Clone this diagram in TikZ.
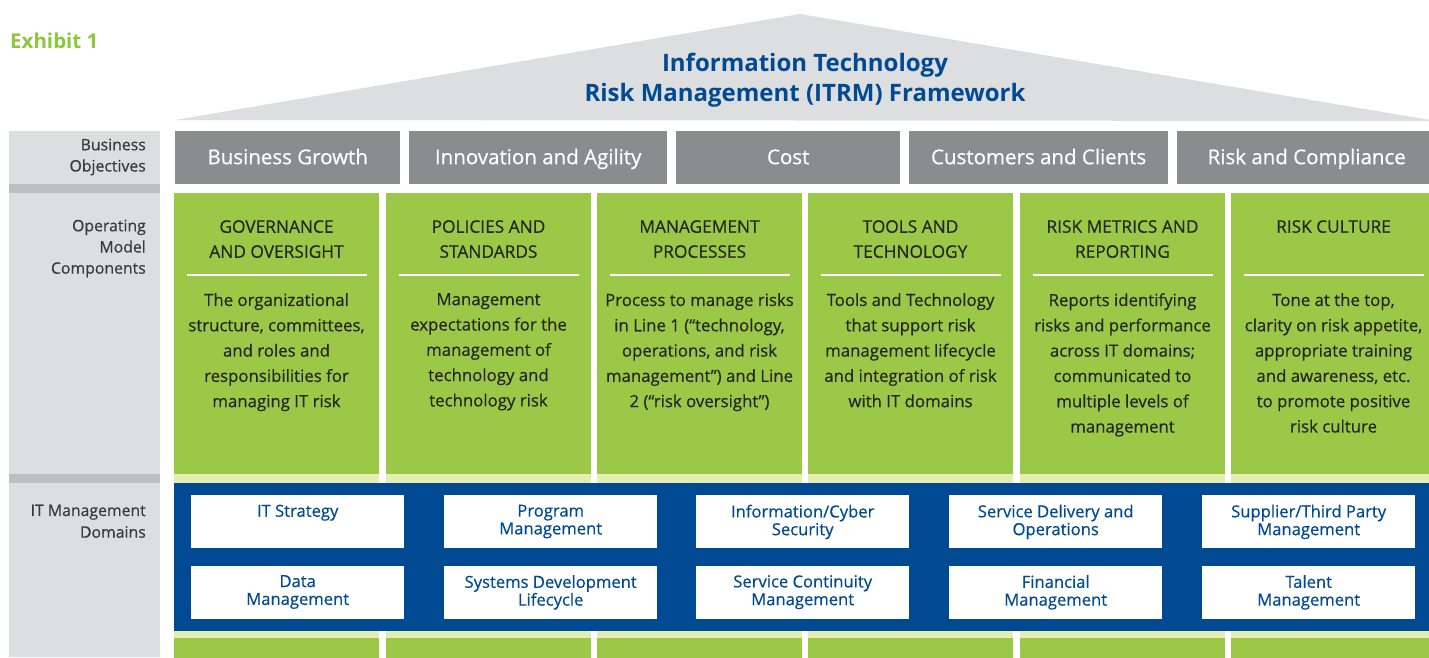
\documentclass[tikz,border=0pt]{standalone}
\usepackage{fontspec}
\setmainfont{Open Sans}
\newfontfamily\itmed{Open Sans}[FakeBold=0.5]
\usepackage{xcolor}
\usetikzlibrary{positioning}
\definecolor{itgreen}{RGB}{155,201,71}
\definecolor{itlightgreen}{RGB}{228,238,176}
\definecolor{itblue}{RGB}{0,74,147}
\definecolor{itgray}{RGB}{139,140,142}
\definecolor{itpale}{RGB}{221,222,224}
\definecolor{itband}{RGB}{190,191,193}
\definecolor{ittext}{RGB}{38,38,38}
\definecolor{itlabel}{RGB}{58,58,58}
\definecolor{itexhibit}{RGB}{141,198,63}
\tikzset{
objective/.style={
  anchor=north west,
  fill=itgray,
  text=white,
  inner sep=0pt,
  minimum height=53pt,
  text height=15pt,
  text depth=2pt,
  font=\itmed\fontsize{20.5}{22}\selectfont
},
compcol/.style={
  anchor=north,
  fill=itgreen,
  inner sep=0pt,
  minimum width=205pt,
  minimum height=281pt
},
comphead/.style={
  anchor=north,
  inner sep=0pt,
  text=ittext,
  align=center,
  font=\itmed\fontsize{17.3}{25}\selectfont
},
compbody/.style={
  anchor=north,
  inner sep=0pt,
  text=ittext,
  align=center,
  font=\itmed\fontsize{16.8}{25.3}\selectfont
},
sidelabel/.style={
  anchor=north east,
  inner sep=0pt,
  text=itlabel,
  align=right,
  font=\itmed\fontsize{15.8}{21.2}\selectfont
},
domainbox/.style={
  anchor=north west,
  fill=white,
  inner sep=0pt,
  minimum width=213pt,
  minimum height=53pt
},
domainlabel/.style={
  anchor=north,
  inner sep=0pt,
  text=itblue,
  align=center,
  font=\itmed\fontsize{16.6}{17.8}\selectfont
},
}

\begin{document}
\begin{tikzpicture}[x=1pt,y=-1pt]
\useasboundingbox (0,0) rectangle (1429,657);
\clip (0,0) rectangle (1429,657);
% the roof
\fill[itpale] (175,120) -- (800,14) -- (1436,121) -- cycle;
\node[anchor=north, text=itblue, align=center, inner sep=0pt,
  font=\bfseries\fontsize{24}{30.7}\selectfont] (title) at (805,52.5)
  {Information Technology\\Risk Management (ITRM) Framework};
\node[anchor=north west, inner sep=0pt, text=itexhibit,
  font=\bfseries\fontsize{20.5}{22}\selectfont] (exhibit) at (10,32.5) {Exhibit 1};
% the side column
\fill[itpale] (9,131) rectangle (160,657);
\fill[itband] (9,184) rectangle (160,193);
\fill[itband] (9,474) rectangle (160,483);
\node[sidelabel] (lblobj) at (146,138.5) {Business\\Objectives};
\node[sidelabel] (lblcomp) at (146,219.5) {Operating\\Model\\Components};
\node[sidelabel, font=\itmed\fontsize{15.8}{21.7}\selectfont] (lbldom) at (146,504.5) {IT Management\\Domains};
% business objectives
\node[objective, minimum width=225pt] (obj1) at (175,131) {Business Growth};
\node[objective, minimum width=258pt] (obj2) at (409,131) {Innovation and Agility};
\node[objective, minimum width=224pt] (obj3) at (676,131) {Cost};
\node[objective, minimum width=259pt] (obj4) at (909,131) {Customers and Clients};
\node[objective, minimum width=259pt] (obj5) at (1177,131) {Risk and Compliance};
% operating model components
\foreach \cx/\head/\body [count=\i] in {
  276.5/{GOVERNANCE\\AND OVERSIGHT}/{The organizational\\structure, committees,\\and roles and\\responsibilities for\\managing IT risk},
  488.5/{POLICIES AND\\STANDARDS}/{Management\\expectations for the\\management of\\technology and\\technology risk},
  699.5/{MANAGEMENT\\PROCESSES}/{Process to manage risks\\in Line 1 (“technology,\\operations, and risk\\management”) and Line\\2 (“risk oversight”)},
  910.5/{TOOLS AND\\TECHNOLOGY}/{Tools and Technology\\that support risk\\management lifecycle\\and integration of risk\\with IT domains},
  1122.5/{RISK METRICS AND\\REPORTING}/{Reports identifying\\risks and performance\\across IT domains;\\communicated to\\multiple levels of\\management},
  1333.5/{RISK CULTURE}/{Tone at the top,\\clarity on risk appetite,\\appropriate training\\and awareness, etc.\\to promote positive\\risk culture}}
{
  \node[compcol] (col\i) at (\cx,193) {};
  \fill[itlightgreen] (col\i.south west) rectangle ++(205,9);
  \fill[itlightgreen] (\cx-102.5,631) rectangle (\cx+102.5,638);
  \fill[itgreen] (\cx-102.5,638) rectangle (\cx+102.5,660);
  \node[comphead, below=27pt of col\i.north] (head\i) {\head};
  \draw[white, line width=1.5pt] (\cx-90,275) -- (\cx+90,275);
  \node[compbody, below=100pt of col\i.north] (body\i) {\body};
}
% IT management domains
\node[anchor=north west, fill=itblue, inner sep=0pt,
  minimum width=1262pt, minimum height=148pt] (band) at (174,483) {};
\foreach \dx/\upper/\lower [count=\i] in {
  191/{IT Strategy}/{Data\\Management},
  444/{Program\\Management}/{Systems Development\\Lifecycle},
  696/{Information/Cyber\\Security}/{Service Continuity\\Management},
  949/{Service Delivery and\\Operations}/{Financial\\Management},
  1202/{Supplier/Third Party\\Management}/{Talent\\Management}}
{
  \node[domainbox] (dom\i a) at (\dx,495) {};
  \node[domainbox] (dom\i b) at (\dx,566) {};
  \node[domainlabel, below=9.5pt of dom\i a.north] (lbl\i a) {\upper};
  \node[domainlabel, below=9pt of dom\i b.north] (lbl\i b) {\lower};
}
\end{tikzpicture}
\end{document}
